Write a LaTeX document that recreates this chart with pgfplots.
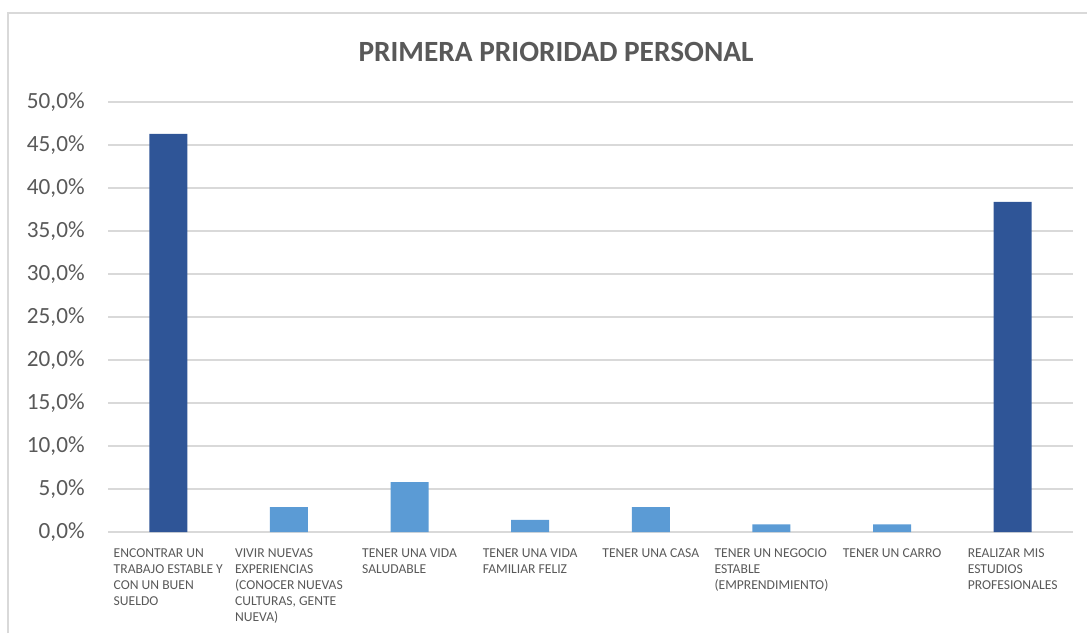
\documentclass[border=0pt]{standalone}
\usepackage{pgfplots}
\pgfplotsset{compat=1.18}
\usepackage{fontspec}
\setmainfont{Carlito}
\definecolor{dark}{HTML}{2F5597}
\definecolor{light}{HTML}{5B9BD5}
\definecolor{txt}{HTML}{595959}
\definecolor{grd}{HTML}{D9D9D9}
\begin{document}
\begin{tikzpicture}
\useasboundingbox (0,0) rectangle (815.25pt,474.75pt);
\draw[grd, line width=1pt] (6pt,0) -- (6pt,465pt) -- (815.25pt,465pt);
\node[text=txt, font=\fontsize{22}{26}\selectfont\bfseries] at (417pt,436pt) {PRIMERA PRIORIDAD PERSONAL};
\begin{axis}[
  at={(81pt,75.75pt)}, anchor=south west,
  scale only axis, width=723.75pt, height=322.5pt,
  xmin=-0.5, xmax=7.5, ymin=0, ymax=50,
  ybar, bar width=28.5pt, bar shift=0pt,
  axis line style={draw=none},
  major tick length=0pt,
  ymajorgrids, grid style={grd, line width=1.1pt},
  ytick={0,5,...,50},
  yticklabel={\pgfmathprintnumber[fixed,fixed zerofill,precision=1,use comma]{\tick}\%},
  /pgf/number format/assume math mode=true,
  yticklabel style={text=txt, font=\fontsize{17.4}{21}\selectfont, xshift=-14pt},
  xtick={0,...,7},
  xticklabels={
    {ENCONTRAR UN\\TRABAJO ESTABLE Y\\CON UN BUEN\\SUELDO},
    {VIVIR NUEVAS\\EXPERIENCIAS\\(CONOCER NUEVAS\\CULTURAS, GENTE\\NUEVA)},
    {TENER UNA VIDA\\SALUDABLE},
    {TENER UNA VIDA\\FAMILIAR FELIZ},
    {TENER UNA CASA},
    {TENER UN NEGOCIO\\ESTABLE\\(EMPRENDIMIENTO)},
    {TENER UN CARRO},
    {REALIZAR MIS\\ESTUDIOS\\PROFESIONALES}},
  xticklabel style={text=txt, font=\fontsize{10.2}{12}\selectfont, align=left, anchor=north, yshift=-9pt},
]
\addplot[fill=dark, draw=none] coordinates {(0,46.3) (7,38.4)};
\addplot[fill=light, draw=none] coordinates {(1,2.9) (2,5.8) (3,1.4) (4,2.9) (5,0.9) (6,0.9)};
\end{axis}
\end{tikzpicture}
\end{document}
